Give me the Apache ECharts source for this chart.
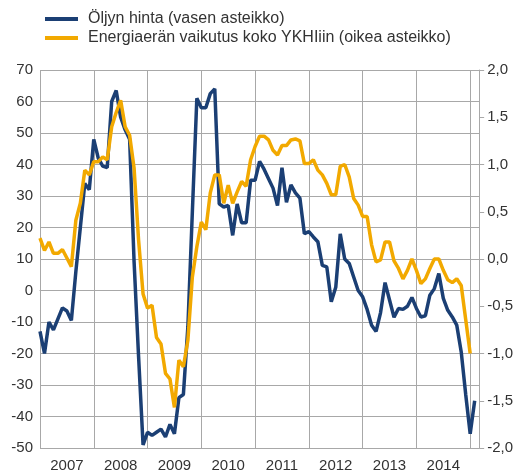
<!DOCTYPE html>
<html>
<head>
<meta charset="utf-8">
<script src="https://cdn.jsdelivr.net/npm/echarts@6/dist/echarts.min.js"></script>
<style>
  html, body { margin: 0; padding: 0; background: #fff; }
  #container { width: 516px; height: 473px; }
</style>
</head>
<body>
<div id="container"></div>
<script>
  // vuosiotsikot, kuukausidata alkaa 2007/01
  var years = ['2007', '2008', '2009', '2010', '2011', '2012', '2013', '2014', '2015'];
  var monthCount = 99;

  // Öljyn hinta, vuosimuutos % (vasen asteikko)
  var oilPrice = [
    -13, -20, -10, -12.5, -9, -5.5, -6.5, -9.5, 6, 20, 34, 32,
    48, 42, 39.5, 39, 60, 63.5, 55, 51, 48, 9, -21, -49,
    -45, -46, -45, -44, -46.5, -42.5, -45.5, -34, -33, -11.5, 25, 61,
    58, 58, 62.5, 64, 27.5, 26.5, 27, 17.5, 27.5, 21.5, 21.5, 35,
    35, 41, 38.5, 35.5, 32.5, 27, 39, 28, 33.5, 31, 29.3, 18,
    18.7, 17, 15.5, 8, 7.5, -3.6, 1, 18, 10, 8.6, 4.3, 0,
    -2, -6, -11, -13, -7, 2.5, -3, -8.5, -5.7, -6, -5, -2.2,
    -5.7, -8.4, -8, -1.5, 0.6, 5.4, -2.5, -6.3, -8.4, -11, -19.5, -33,
    -45.5, -35
  ];

  // Energiaerän vaikutus YKHIin, %-yks. (oikea asteikko)
  var energyEffect = [
    0.22, 0.09, 0.18, 0.06, 0.06, 0.1, 0.01, -0.08, 0.41, 0.59, 0.94, 0.89,
    1.03, 1.03, 1.08, 1.05, 1.4, 1.55, 1.68, 1.4, 1.31, 0.96, 0.2, -0.37,
    -0.52, -0.49, -0.83, -0.9, -1.21, -1.27, -1.57, -1.07, -1.14, -0.86, -0.19, 0.13,
    0.39, 0.31, 0.7, 0.89, 0.89, 0.59, 0.78, 0.59, 0.71, 0.82, 0.77, 1.05,
    1.19, 1.3, 1.3, 1.26, 1.15, 1.1, 1.2, 1.2, 1.26, 1.27, 1.25, 1.01,
    1.01, 1.05, 0.94, 0.89, 0.8, 0.68, 0.68, 0.98, 1.0, 0.87, 0.64, 0.57,
    0.45, 0.45, 0.15, -0.03, -0.01, 0.18, 0.18, -0.02, -0.1, -0.21, -0.12, 0,
    -0.12, -0.26, -0.21, -0.1, 0, 0, -0.12, -0.22, -0.25, -0.21, -0.28, -0.64,
    -1.0
  ];

  var months = [];
  for (var i = 0; i < monthCount; i++) {
    var m = i % 12 + 1;
    months.push(years[Math.floor(i / 12)] + '-' + (m < 10 ? '0' + m : m));
  }

  var gridColor = '#a8a8a8';
  var textColor = '#333333';
  var fontName = 'Liberation Sans';

  var chart = echarts.init(document.getElementById('container'));

  chart.setOption({
    animation: false,
    textStyle: { fontFamily: fontName },
    legend: {
      orient: 'vertical',
      left: 40,
      top: 6,
      icon: 'rect',
      itemWidth: 33,
      itemHeight: 4,
      itemGap: 3,
      textStyle: {
        fontSize: 16,
        color: textColor,
        padding: [0, 0, 0, 5]
      },
      data: ['Öljyn hinta (vasen asteikko)', 'Energiaerän vaikutus koko YKHIiin (oikea asteikko)']
    },
    grid: {
      left: 40,
      right: 36,
      top: 70,
      bottom: 25
    },
    xAxis: {
      type: 'category',
      boundaryGap: false,
      data: months,
      axisLine: { show: true, lineStyle: { color: gridColor } },
      axisTick: {
        show: true,
        length: 6,
        interval: function (index) { return index % 12 === 0; },
        lineStyle: { color: gridColor }
      },
      splitLine: {
        show: true,
        interval: function (index) { return index % 12 === 0; },
        lineStyle: { color: gridColor }
      },
      axisLabel: {
        interval: function (index) { return index % 12 === 6; },
        formatter: function (val) { return val.slice(0, 4); },
        fontSize: 15,
        color: textColor,
        margin: 10
      }
    },
    yAxis: [
      {
        type: 'value',
        min: -50,
        max: 70,
        interval: 10,
        axisLine: { show: false },
        axisTick: { show: false },
        splitLine: { show: true, lineStyle: { color: gridColor } },
        axisLabel: { fontSize: 15, color: textColor, margin: 7 }
      },
      {
        type: 'value',
        position: 'right',
        min: -2,
        max: 2,
        interval: 0.5,
        axisLine: { show: true, lineStyle: { color: gridColor } },
        axisTick: { show: true, length: 5, lineStyle: { color: gridColor } },
        splitLine: { show: false },
        axisLabel: {
          fontSize: 15,
          color: textColor,
          margin: 8,
          formatter: function (v) { return v.toFixed(1).replace('.', ','); }
        }
      }
    ],
    series: [
      {
        name: 'Öljyn hinta (vasen asteikko)',
        type: 'line',
        yAxisIndex: 0,
        symbol: 'none',
        color: '#1b3f74',
        lineStyle: { width: 3.5, color: '#1b3f74' },
        data: oilPrice
      },
      {
        name: 'Energiaerän vaikutus koko YKHIiin (oikea asteikko)',
        type: 'line',
        yAxisIndex: 1,
        symbol: 'none',
        color: '#f2a900',
        lineStyle: { width: 3.5, color: '#f2a900' },
        data: energyEffect
      }
    ]
  });
</script>
</body>
</html>
